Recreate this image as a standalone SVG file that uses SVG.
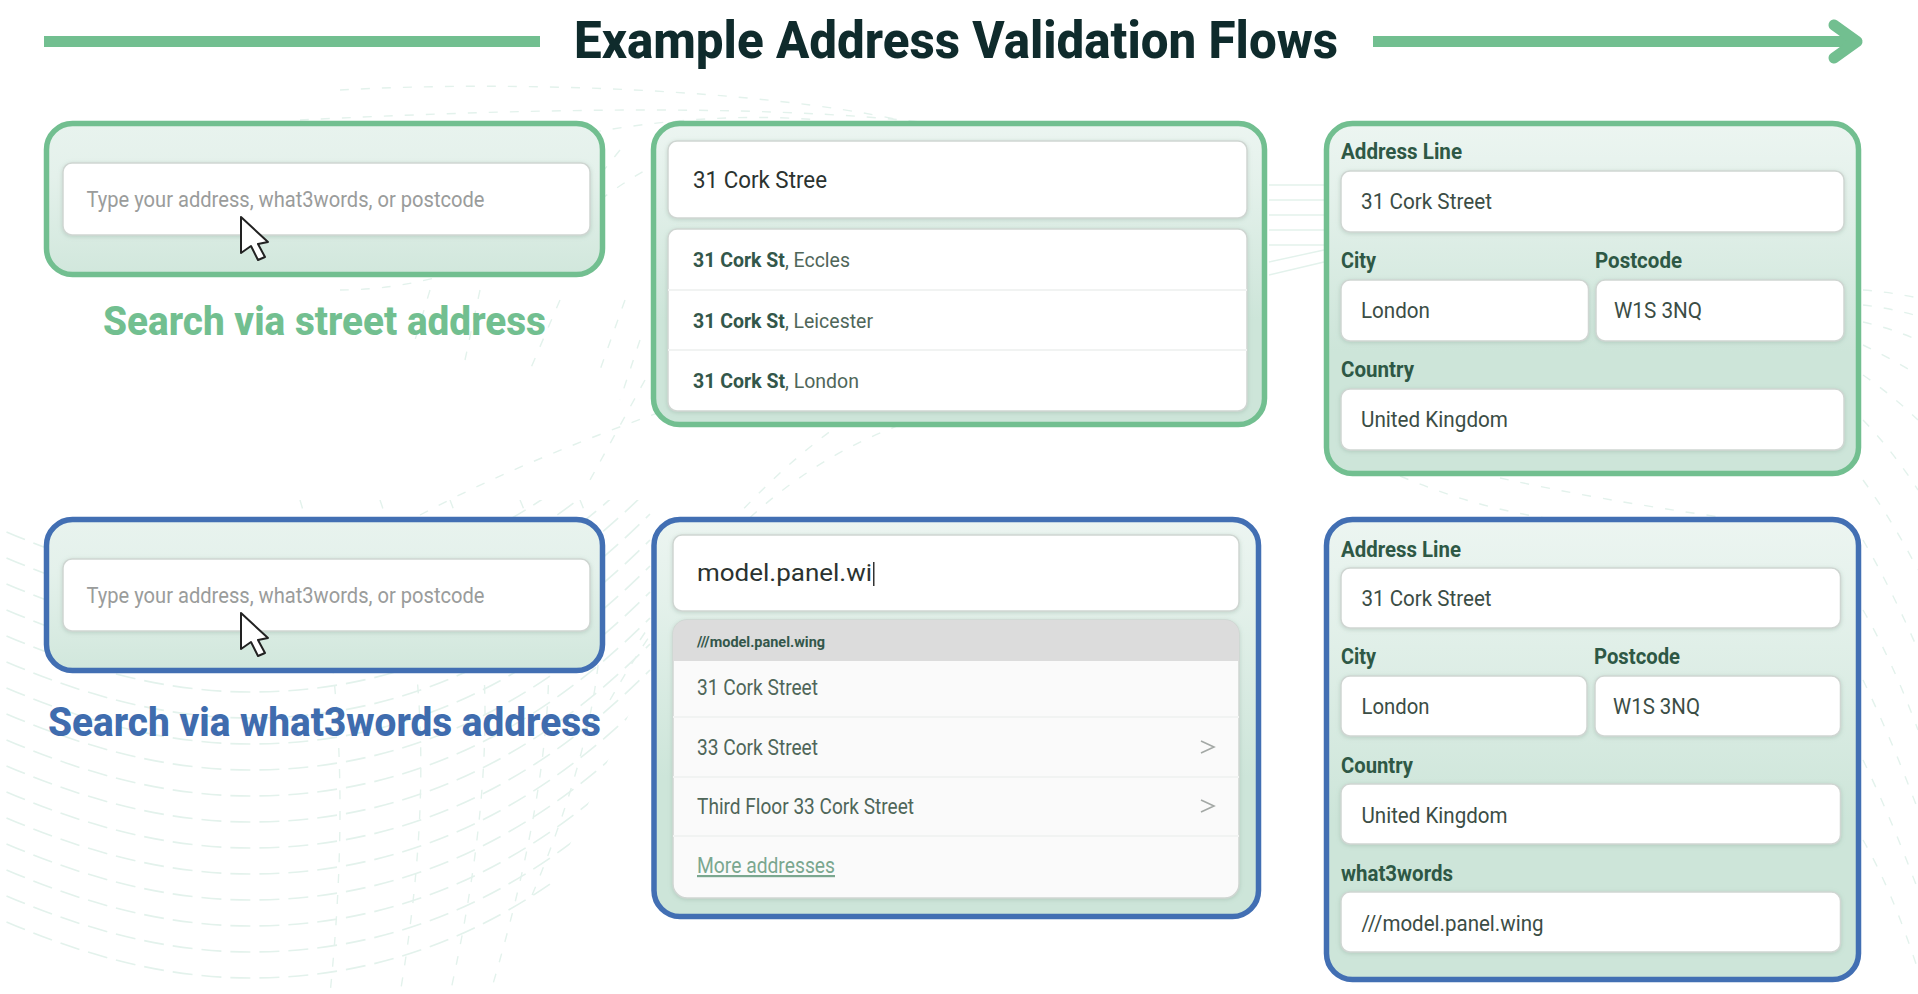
<svg xmlns="http://www.w3.org/2000/svg" xmlns:xlink="http://www.w3.org/1999/xlink" width="1918" height="994" viewBox="0 0 1918 994">
<style>
text{font-family:Roboto,"Liberation Sans",sans-serif}
.title{font-size:52px;font-weight:800;fill:#0f2b2c}
.capg{font-size:41px;font-weight:800;fill:#72bf90}
.capb{font-size:41px;font-weight:800;fill:#3f6cae}
.ph{font-size:22px;fill:#9a9c9b}
.lab{font-size:22px;font-weight:700;fill:#2e5845}
.val{font-size:22px;fill:#3b4d45}
.typed{font-size:23px;fill:#2b3330}
.row{font-size:22px;fill:#4f6659}
.rs{font-size:20.5px}
.b{font-weight:700;fill:#33574a}
.pg{fill:url(#pgrad);stroke:#72bf90;stroke-width:5.5}
.pb{fill:url(#pgrad);stroke:#426fb3;stroke-width:5.5}
.sm{fill:url(#pgrads)}
.inp{fill:#fff;stroke:#cfd6d2;stroke-width:1.5;filter:url(#sh)}
.sep{stroke:#f1f3f2;stroke-width:2}
.cur{fill:#fff;stroke:#222;stroke-width:2;stroke-linejoin:round}
.conn{fill:none;stroke:#72bf90;stroke-width:11}
.bg{fill:none;stroke:#e3f2ec;stroke-width:1.6;stroke-dasharray:20 9}
.bt{fill:none;stroke:#e3f2ec;stroke-width:1.4;stroke-dasharray:9 12}
.chev{fill:none;stroke:#a3a8a5;stroke-width:1.6}
</style>
<defs>
<linearGradient id="pgrad" x1="0" y1="0" x2="0" y2="1"><stop offset="0" stop-color="#ecf5f1"/><stop offset="0.2" stop-color="#e4f1eb"/><stop offset="0.65" stop-color="#cde5d9"/><stop offset="1" stop-color="#cde5d9"/></linearGradient>
<linearGradient id="pgrads" x1="0" y1="0" x2="0" y2="1"><stop offset="0" stop-color="#e8f3ee"/><stop offset="0.35" stop-color="#e4f1eb"/><stop offset="1" stop-color="#d1e7dc"/></linearGradient>
<filter id="sh" x="-5%" y="-15%" width="110%" height="130%"><feDropShadow dx="0" dy="1" stdDeviation="2" flood-color="#7d9a8c" flood-opacity="0.35"/></filter>
<clipPath id="wave"><path d="M0,500H760L700,600L640,690L590,800L545,900L500,994H0Z"/></clipPath>
<clipPath id="l5"><rect x="673" y="620" width="566" height="278" rx="14"/></clipPath>
<path id="arc" d="M-20,0C70,42 160,68 250,68C400,68 530,10 650,-110"/>
<path id="cursor" d="M241,0V36L251,29L258,43L265,40L258,27L268,25Z"/>
</defs>
<rect width="1918" height="994" fill="#fff"/>
<g id="background">
<g clip-path="url(#wave)">
<use href="#arc" class="bg" y="520"/><use href="#arc" class="bg" y="546"/><use href="#arc" class="bg" y="572"/><use href="#arc" class="bg" y="598"/><use href="#arc" class="bg" y="624"/><use href="#arc" class="bg" y="650"/><use href="#arc" class="bg" y="676"/><use href="#arc" class="bg" y="702"/><use href="#arc" class="bg" y="728"/><use href="#arc" class="bg" y="754"/><use href="#arc" class="bg" y="780"/><use href="#arc" class="bg" y="806"/><use href="#arc" class="bg" y="832"/><use href="#arc" class="bg" y="858"/><use href="#arc" class="bg" y="884"/><use href="#arc" class="bg" y="910"/>
<path class="bt" d="M300,500Q360,700 330,994M380,500Q450,700 400,994M450,500Q520,680 450,994M520,500Q590,660 490,994M580,500Q640,640 530,900"/>
</g>
<path class="bt" d="M610,700C690,560 780,470 900,425M640,640C720,520 820,420 920,380"/>
<path class="bt" d="M420,515C600,420 800,370 1000,290M300,120C500,110 800,100 980,130M340,90C520,80 760,90 900,120M450,170C560,130 700,110 820,120M600,200C640,170 680,150 720,140M340,290C390,290 460,280 560,230"/>
<path class="bt" d="M625,300L600,370M640,340L620,400M645,380L590,480M560,300L530,370M430,290L415,340M480,290L465,360M620,150L600,175"/>
<path d="M1269,185H1324M1269,200H1324M1269,215H1324M1269,230H1324M1269,245H1324M1269,262L1324,250M1269,275L1324,262" fill="none" stroke="#e3f2ec" stroke-width="1.4"/>
<path class="bt" d="M1863,290Q1890,292 1918,298M1863,305Q1890,308 1918,316M1863,322Q1890,328 1918,340M1863,345Q1890,358 1918,375M1863,375Q1892,395 1918,420M1863,420Q1892,450 1918,490M1863,480Q1892,520 1918,570M1863,540Q1892,590 1918,650M1863,610Q1892,660 1918,730M1863,680Q1892,740 1918,810M1863,760Q1892,820 1918,890M1863,840Q1892,890 1918,970M1400,476Q1480,510 1560,520M1500,478Q1600,500 1720,517"/>
</g>
<g id="connectors">
<path class="conn" d="M44,41.500H540"/>
<path class="conn" d="M1373,41.500H1856"/>
<path class="conn" stroke-linecap="round" stroke-linejoin="round" d="M1834,25L1857,41.500L1834,58"/>
</g>
<text id="title" class="title" x="574" y="58" textLength="764" lengthAdjust="spacingAndGlyphs">Example Address Validation Flows</text>
<g id="node-search-street">
<rect class="pg sm" x="46.500" y="123.500" width="556" height="151" rx="26"/>
<rect class="inp" x="63" y="163" width="527" height="72" rx="9"/>
<text class="ph" x="86.500" y="207" textLength="398" lengthAdjust="spacingAndGlyphs">Type your address, what3words, or postcode</text>
<use href="#cursor" class="cur" y="217"/>
<text class="capg" x="103" y="335" textLength="443" lengthAdjust="spacingAndGlyphs">Search via street address</text>
</g>
<g id="node-suggest-street">
<rect class="pg" x="653.500" y="123.500" width="611" height="301" rx="26"/>
<rect class="inp" x="668" y="141" width="579" height="77" rx="9"/>
<text class="typed" x="693" y="188" textLength="134" lengthAdjust="spacingAndGlyphs">31 Cork Stree</text>
<rect class="inp" x="668" y="229" width="579" height="182" rx="9"/>
<path class="sep" d="M668,290H1247M668,350H1247"/>
<text class="row rs" x="693" y="267" textLength="157" lengthAdjust="spacingAndGlyphs"><tspan class="b">31 Cork St</tspan>, Eccles</text>
<text class="row rs" x="693" y="328" textLength="180" lengthAdjust="spacingAndGlyphs"><tspan class="b">31 Cork St</tspan>, Leicester</text>
<text class="row rs" x="693" y="388" textLength="166" lengthAdjust="spacingAndGlyphs"><tspan class="b">31 Cork St</tspan>, London</text>
</g>
<g id="node-form-street">
<rect class="pg" x="1326.500" y="123.500" width="532" height="350" rx="26"/>
<text class="lab" x="1341" y="159" textLength="121" lengthAdjust="spacingAndGlyphs">Address Line</text>
<rect class="inp" x="1341" y="171" width="503" height="61" rx="9"/>
<text class="val" x="1361" y="209" textLength="131" lengthAdjust="spacingAndGlyphs">31 Cork Street</text>
<text class="lab" x="1341" y="268" textLength="35" lengthAdjust="spacingAndGlyphs">City</text>
<text class="lab" x="1595" y="268" textLength="87" lengthAdjust="spacingAndGlyphs">Postcode</text>
<rect class="inp" x="1341" y="280" width="247.500" height="61" rx="9"/>
<rect class="inp" x="1596" y="280" width="248" height="61" rx="9"/>
<text class="val" x="1361" y="318" textLength="69" lengthAdjust="spacingAndGlyphs">London</text>
<text class="val" x="1614" y="318" textLength="88" lengthAdjust="spacingAndGlyphs">W1S 3NQ</text>
<text class="lab" x="1341" y="377" textLength="73" lengthAdjust="spacingAndGlyphs">Country</text>
<rect class="inp" x="1341" y="389" width="503" height="61" rx="9"/>
<text class="val" x="1361" y="427" textLength="147" lengthAdjust="spacingAndGlyphs">United Kingdom</text>
</g>
<g id="node-search-w3w">
<rect class="pb sm" x="46.500" y="519.500" width="556" height="151" rx="26"/>
<rect class="inp" x="63" y="559" width="527" height="72" rx="9"/>
<text class="ph" x="86.500" y="603" textLength="398" lengthAdjust="spacingAndGlyphs">Type your address, what3words, or postcode</text>
<use href="#cursor" class="cur" y="613"/>
<text class="capb" x="48" y="736" textLength="553" lengthAdjust="spacingAndGlyphs">Search via what3words address</text>
</g>
<g id="node-suggest-w3w">
<rect class="pb" x="654" y="519.500" width="604.500" height="397" rx="26"/>
<rect class="inp" x="673" y="535" width="566" height="76" rx="9"/>
<text class="typed" style="font-size:24px" x="697" y="581" textLength="175" lengthAdjust="spacingAndGlyphs">model.panel.wi</text>
<rect x="873" y="562" width="1.500" height="24" fill="#333"/>
<rect class="inp" x="673" y="620" width="566" height="278" rx="14" style="fill:#fafafa"/>
<rect x="673" y="620" width="566" height="41" fill="#dcdcdc" clip-path="url(#l5)"/>
<path class="sep" d="M673,717H1239M673,777H1239M673,836H1239"/>
<text class="b" style="font-size:15px" x="697" y="647" textLength="128" lengthAdjust="spacingAndGlyphs">///model.panel.wing</text>
<text class="row" x="697" y="695" textLength="121" lengthAdjust="spacingAndGlyphs">31 Cork Street</text>
<text class="row" x="697" y="755" textLength="121" lengthAdjust="spacingAndGlyphs">33 Cork Street</text>
<text class="row" x="697" y="814" textLength="217" lengthAdjust="spacingAndGlyphs">Third Floor 33 Cork Street</text>
<text class="row" style="fill:#7aa78f" text-decoration="underline" x="697" y="873" textLength="138" lengthAdjust="spacingAndGlyphs">More addresses</text>
<path class="chev" d="M1201,741L1214,747L1201,753M1201,800L1214,806L1201,812"/>
</g>
<g id="node-form-w3w">
<rect class="pb" x="1326.500" y="519.500" width="532" height="460" rx="26"/>
<text class="lab" x="1341" y="557" textLength="120" lengthAdjust="spacingAndGlyphs">Address Line</text>
<rect class="inp" x="1341" y="568" width="499.500" height="60" rx="9"/>
<text class="val" x="1361.500" y="606" textLength="130" lengthAdjust="spacingAndGlyphs">31 Cork Street</text>
<text class="lab" x="1341" y="664" textLength="35" lengthAdjust="spacingAndGlyphs">City</text>
<text class="lab" x="1594" y="664" textLength="86" lengthAdjust="spacingAndGlyphs">Postcode</text>
<rect class="inp" x="1341" y="676" width="246" height="60" rx="9"/>
<rect class="inp" x="1595" y="676" width="245.500" height="60" rx="9"/>
<text class="val" x="1361.500" y="714" textLength="68" lengthAdjust="spacingAndGlyphs">London</text>
<text class="val" x="1613" y="714" textLength="87" lengthAdjust="spacingAndGlyphs">W1S 3NQ</text>
<text class="lab" x="1341" y="773" textLength="72" lengthAdjust="spacingAndGlyphs">Country</text>
<rect class="inp" x="1341" y="784" width="499.500" height="60" rx="9"/>
<text class="val" x="1361.500" y="823" textLength="146" lengthAdjust="spacingAndGlyphs">United Kingdom</text>
<text class="lab" x="1341" y="881" textLength="112" lengthAdjust="spacingAndGlyphs">what3words</text>
<rect class="inp" x="1341" y="892" width="499.500" height="60" rx="9"/>
<text class="val" x="1361.500" y="931" textLength="182" lengthAdjust="spacingAndGlyphs">///model.panel.wing</text>
</g>
</svg>
